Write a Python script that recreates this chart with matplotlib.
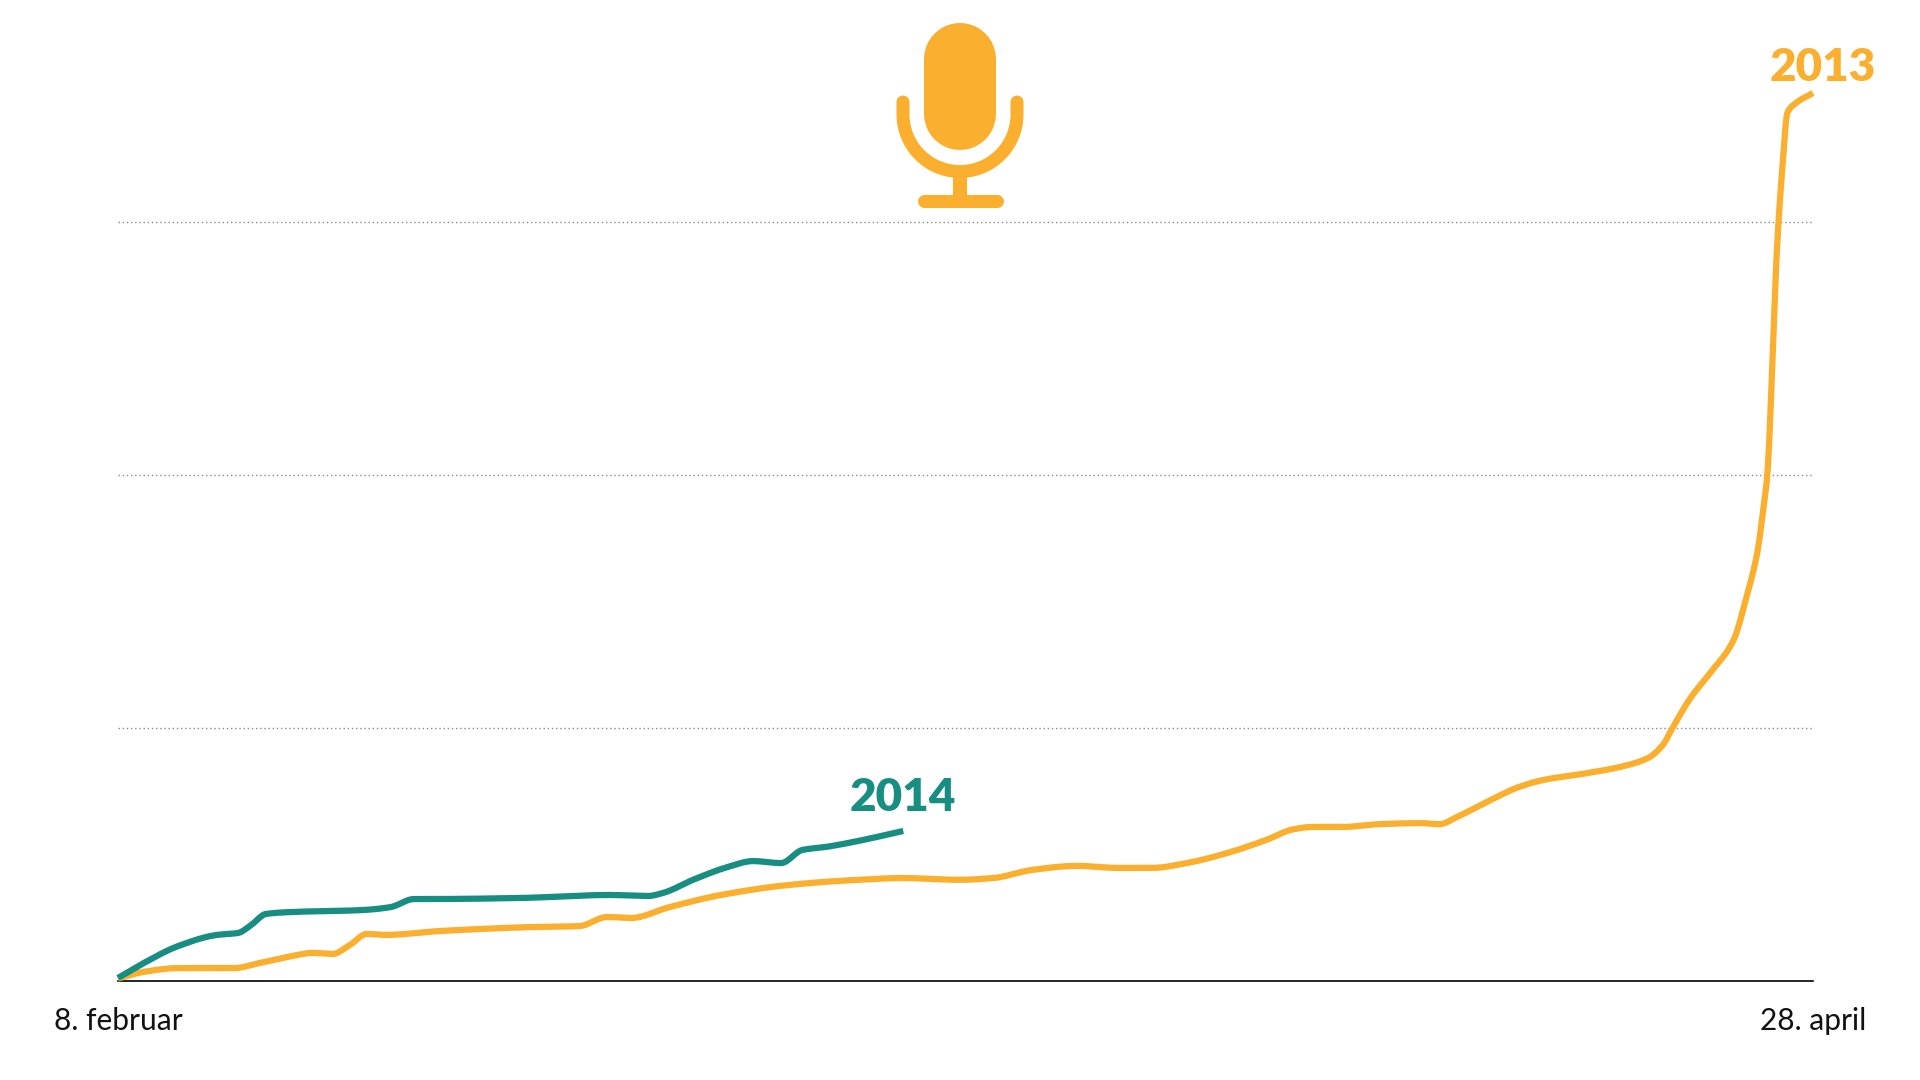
import numpy as np
import matplotlib
matplotlib.use("Agg")
import matplotlib.pyplot as plt

# ---- data (days since 8 February, cumulative value in grid units) ----
days_2013 = [0, 1.2, 2.8, 5.4, 6.6, 7.9, 9.1, 10.0, 10.8, 11.6, 12.4, 15.1, 19.2,
             21.5, 22.8, 23.9, 25.7, 28.1, 31.2, 34.3, 36.6, 39.2, 40.8, 42.6,
             44.7, 46.6, 48.2, 49.8, 51.7, 53.5, 54.8, 55.7, 57.1, 58.8, 60.7,
             61.6, 62.4, 63.8, 65.3, 66.4, 68.5, 70.0, 71.3, 72.0, 72.45, 73.3,
             74.2, 75.3, 75.9, 76.4, 76.7, 76.85, 77.35, 77.6, 77.8, 78.2, 79]
vals_2013 = [0.01, 0.036, 0.051, 0.051, 0.071, 0.095, 0.111, 0.107, 0.142, 0.186,
             0.182, 0.198, 0.213, 0.217, 0.253, 0.249, 0.292, 0.34, 0.379, 0.399,
             0.407, 0.40, 0.407, 0.439, 0.455, 0.447, 0.447, 0.466, 0.506, 0.557,
             0.60, 0.609, 0.609, 0.62, 0.624, 0.62, 0.648, 0.708, 0.767, 0.794,
             0.822, 0.846, 0.881, 0.933, 1.0, 1.12, 1.217, 1.348, 1.518, 1.692,
             1.874, 1.98, 2.94, 3.245, 3.43, 3.47, 3.51]

days_2014 = [0, 1.2, 2.8, 4.6, 5.6, 6.2, 6.9, 8.2, 11.3, 12.7, 13.8, 14.5, 18.7,
             22.9, 24.7, 25.4, 26.8, 28.4, 29.6, 30.9, 31.9, 33.0, 34.3, 36.6]
vals_2014 = [0.012, 0.071, 0.138, 0.182, 0.19, 0.221, 0.265, 0.273, 0.28, 0.292,
             0.324, 0.324, 0.328, 0.34, 0.336, 0.348, 0.40, 0.45, 0.474, 0.466,
             0.518, 0.53, 0.55, 0.593]

x_tick_labels = ["8. februar", "28. april"]
x_range = [0, 79]
grid_levels = [1, 2, 3]
series_labels = ["2013", "2014"]

ORANGE = "#FBAF2E"
TEAL = "#178E81"


def pchip(x, y, n=12):
    """Monotone cubic Hermite rendering of the read points (smoothed line)."""
    x = np.asarray(x, float)
    y = np.asarray(y, float)
    h = np.diff(x)
    d = np.diff(y) / h
    m = np.zeros_like(y)
    for i in range(1, len(y) - 1):
        if d[i - 1] * d[i] <= 0:
            m[i] = 0
        else:
            w1 = 2 * h[i] + h[i - 1]
            w2 = h[i] + 2 * h[i - 1]
            m[i] = (w1 + w2) / (w1 / d[i - 1] + w2 / d[i])
    m[0] = d[0]
    m[-1] = d[-1]
    xs, ys = [], []
    for i in range(len(h)):
        t = np.linspace(0, 1, n, endpoint=False)
        h00 = 2 * t**3 - 3 * t**2 + 1
        h10 = t**3 - 2 * t**2 + t
        h01 = -2 * t**3 + 3 * t**2
        h11 = t**3 - t**2
        xs.append(x[i] + t * h[i])
        ys.append(h00 * y[i] + h10 * h[i] * m[i] + h01 * y[i + 1] + h11 * h[i] * m[i + 1])
    xs.append([x[-1]])
    ys.append([y[-1]])
    return np.concatenate(xs), np.concatenate(ys)


plt.rcParams["font.family"] = ["Lato", "DejaVu Sans"]

W, H = 1920, 1080
fig = plt.figure(figsize=(W / 100, H / 100), dpi=100)
fig.patch.set_facecolor("white")

left_px, right_px, base_px, unit_px = 118, 1813, 981, 253
ymax = 3.8
ax = fig.add_axes([left_px / W, (H - base_px) / H, (right_px - left_px) / W,
                   ymax * unit_px / H])
ax.set_xlim(*x_range)
ax.set_ylim(0, ymax)
for s in ax.spines.values():
    s.set_visible(False)
ax.set_xticks([])
ax.set_yticks([])
ax.patch.set_alpha(0)

for g in grid_levels:
    ax.axhline(g, color="#8a8a8a", lw=1.0, ls=(0, (1, 2)), zorder=1)
ax.plot(x_range, [0, 0], color="black", lw=1.2, zorder=2, clip_on=False)

x13, y13 = pchip(days_2013, vals_2013)
x14, y14 = pchip(days_2014, vals_2014)
ax.plot(x13, y13, color=ORANGE, lw=4.5, solid_joinstyle="round",
        solid_capstyle="butt", zorder=3, clip_on=False)
ax.plot(x14, y14, color=TEAL, lw=4.5, solid_joinstyle="round",
        solid_capstyle="butt", zorder=4, clip_on=False)

ax.annotate(series_labels[0], (days_2013[-1], vals_2013[-1]), xytext=(10, 25),
            textcoords="offset pixels", ha="center", va="center",
            fontsize=33, fontweight="heavy", color=ORANGE, clip_on=False)
ax.annotate(series_labels[1], (days_2014[-1], vals_2014[-1]), xytext=(0, 33),
            textcoords="offset pixels", ha="center", va="center",
            fontsize=33, fontweight="heavy", color=TEAL, clip_on=False)

ax.text(x_range[0], -0.16, x_tick_labels[0], ha="center", va="center",
        fontsize=21.5, color="#111111", clip_on=False)
ax.text(x_range[1], -0.16, x_tick_labels[1], ha="center", va="center",
        fontsize=21.5, color="#111111", clip_on=False)

# ---- microphone icon (pixel coordinates overlay) ----
ov = fig.add_axes([0, 0, 1, 1])
ov.set_xlim(0, W)
ov.set_ylim(H, 0)
ov.axis("off")
ov.patch.set_alpha(0)
px = 72 / 100  # points per pixel
ov.plot([960, 960], [59, 114], color=ORANGE, lw=72 * px, solid_capstyle="round")
t = np.linspace(np.pi, 0, 60)
ux = np.concatenate([[903], 960 + 57 * np.cos(t), [1017]])
uy = np.concatenate([[102], 114.5 + 57 * np.sin(t), [102]])
ov.plot(ux, uy, color=ORANGE, lw=13 * px, solid_capstyle="round",
        solid_joinstyle="round")
ov.plot([960, 960], [170, 200], color=ORANGE, lw=14 * px, solid_capstyle="butt")
ov.plot([923.5, 996.5], [200.5, 200.5], color=ORANGE, lw=13 * px,
        solid_capstyle="round")

fig.savefig("out.png", dpi=100, facecolor="white")
